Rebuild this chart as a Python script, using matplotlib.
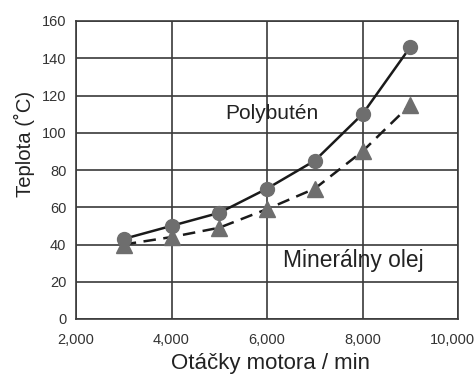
import matplotlib
matplotlib.use("Agg")
import matplotlib.pyplot as plt
from matplotlib.ticker import FuncFormatter
from matplotlib.transforms import ScaledTranslation

rpm = [3000, 4000, 5000, 6000, 7000, 8000, 9000]
polybuten = [43, 50, 57, 70, 85, 110, 146]
mineral = [40, 44, 49, 59, 70, 90, 115]
xticks = [2000, 4000, 6000, 8000, 10000]
yticks = [0, 20, 40, 60, 80, 100, 120, 140, 160]

plt.rcParams['font.family'] = ['Liberation Sans', 'DejaVu Sans']

fig = plt.figure(figsize=(4.76, 3.74), dpi=100)
ax = fig.add_axes([76/476, 1-319/374, (458-76)/476, (319-21)/374])

grid_c = '#3a3a3a'
ax.set_xlim(2000, 10000)
ax.set_ylim(0, 160)
ax.set_xticks(xticks)
ax.set_yticks(yticks)
ax.grid(True, color=grid_c, linewidth=1.2)
ax.set_axisbelow(True)
for s in ax.spines.values():
    s.set_color(grid_c)
    s.set_linewidth(1.2)
ax.tick_params(length=0, labelsize=10.5, colors='#333333')
ax.tick_params(axis='x', pad=10)
ax.tick_params(axis='y', pad=7)
ax.xaxis.set_major_formatter(FuncFormatter(lambda v, p: f"{int(v):,}"))

ax.plot(rpm, polybuten, color='#1a1a1a', linewidth=1.8, zorder=3)
ax.plot(rpm, mineral, color='#1a1a1a', linewidth=1.8, linestyle=(0, (5, 3)), zorder=3)
ax.plot(rpm, polybuten, linestyle='none', marker='o', markersize=10,
        color='#6e6e6e', zorder=4)
ax.plot(rpm, mineral, linestyle='none', marker='^', markersize=11,
        color='#6e6e6e', zorder=4)

ax.text(0.513, 0.688, 'Polybutén', transform=ax.transAxes, ha='center', va='center',
        fontsize=15, color='#222222')
ax.text(0.725, 0.195, 'Minerálny olej', transform=ax.transAxes, ha='center', va='center',
        fontsize=16.4, color='#222222')

ax.set_xlabel('Otáčky motora / min', fontsize=16, color='#222222')
ax.xaxis.set_label_coords(0.51, -(363-319)/298, transform=ax.transAxes)
ax.xaxis.label.set_va('center')
ax.set_ylabel('Teplota (˚C)', fontsize=14.6, color='#222222')
ax.yaxis.set_label_coords(-(76-24)/382, (319-144)/298, transform=ax.transAxes)
ax.yaxis.label.set_va('center')

fig.canvas.draw()
labels = ax.get_xticklabels()
labels[-1].set_transform(labels[-1].get_transform() +
                         ScaledTranslation(-6/100, 0, fig.dpi_scale_trans))

fig.savefig('out.png', dpi=100)
